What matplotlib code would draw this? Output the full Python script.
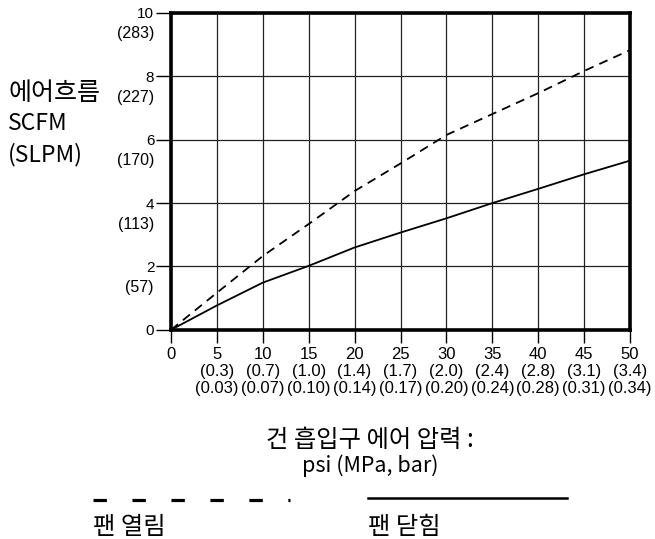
import matplotlib
matplotlib.use('Agg')
import matplotlib.pyplot as plt
from matplotlib.lines import Line2D

plt.rcParams['font.family'] = ['Liberation Sans', 'DejaVu Sans']

# 압력 (psi) 과 에어흐름 (SCFM)
psi = [0, 5, 10, 15, 20, 25, 30, 35, 40, 45, 50]
fan_open = [0, 1.17, 2.33, 3.34, 4.38, 5.25, 6.15, 6.81, 7.47, 8.17, 8.83]
fan_closed = [0, 0.77, 1.49, 2.02, 2.60, 3.07, 3.52, 4.00, 4.45, 4.91, 5.34]

x_ticks = [0, 5, 10, 15, 20, 25, 30, 35, 40, 45, 50]
x_mpa = ['', '(0.3)', '(0.7)', '(1.0)', '(1.4)', '(1.7)', '(2.0)', '(2.4)', '(2.8)', '(3.1)', '(3.4)']
x_bar = ['', '(0.03)', '(0.07)', '(0.10)', '(0.14)', '(0.17)', '(0.20)', '(0.24)', '(0.28)', '(0.31)', '(0.34)']
y_ticks = [0, 2, 4, 6, 8, 10]
y_slpm = ['', '(57)', '(113)', '(170)', '(227)', '(283)']

kr = ['Noto Sans CJK KR', 'DejaVu Sans']

fig = plt.figure(figsize=(6.55, 5.39), dpi=100)
ax = fig.add_axes([0.261, 0.388, 0.701, 0.588])

ax.plot(psi, fan_open, color='black', lw=1.3, ls=(0, (5, 3.5)))
ax.plot(psi, fan_closed, color='black', lw=1.3)

ax.set_xlim(0, 50)
ax.set_ylim(0, 10)
ax.set_xticks(x_ticks)
xlabels = []
for t, m, b in zip(x_ticks, x_mpa, x_bar):
    if m:
        xlabels.append(f'{t}\n{m}\n{b}')
    else:
        xlabels.append(f'{t}')
ax.set_xticklabels(xlabels, fontsize=12, linespacing=1.18)
ax.set_yticks(y_ticks)
ax.set_yticklabels([str(v) for v in y_ticks], fontsize=11)
ax.tick_params(axis='y', direction='out', length=10.5, width=1, pad=1.5)
ax.tick_params(axis='x', direction='out', length=9, width=1, pad=3)

for v, s in zip(y_ticks, y_slpm):
    if s:
        ax.annotate(s, xy=(0, v), xycoords=('axes fraction', 'data'),
                    xytext=(-17, -21), textcoords='offset pixels',
                    ha='right', va='center', fontsize=11.5)

ax.grid(True, color='#222222', lw=0.9)
for sp in ax.spines.values():
    sp.set_linewidth(2.6)

fig.text(8 / 655, 1 - 93 / 539, '에어흐름', family=kr, fontsize=18, ha='left', va='center')
fig.text(8 / 655, 1 - 123 / 539, 'SCFM', family=kr, fontsize=16.5, ha='left', va='center')
fig.text(8 / 655, 1 - 155 / 539, '(SLPM)', family=kr, fontsize=16.5, ha='left', va='center')

fig.text(370 / 655, 1 - 440 / 539, '건 흡입구 에어 압력 :', family=kr, fontsize=17.5,
         ha='center', va='center')
fig.text(370 / 655, 1 - 466 / 539, 'psi (MPa, bar)', family=kr, fontsize=15.5,
         ha='center', va='center')

# 범례
fig.add_artist(Line2D([93 / 655, 290 / 655], [1 - 500 / 539, 1 - 500 / 539],
                      color='black', lw=2.3, ls=(0, (4.2, 8))))
fig.add_artist(Line2D([368 / 655, 567 / 655], [1 - 498 / 539, 1 - 498 / 539],
                      color='black', lw=1.8))
fig.text(93 / 655, 1 - 527 / 539, '팬 열림', family=kr, fontsize=17.5, ha='left', va='center')
fig.text(368 / 655, 1 - 527 / 539, '팬 닫힘', family=kr, fontsize=17.5, ha='left', va='center')

fig.savefig('out.png', dpi=100)
